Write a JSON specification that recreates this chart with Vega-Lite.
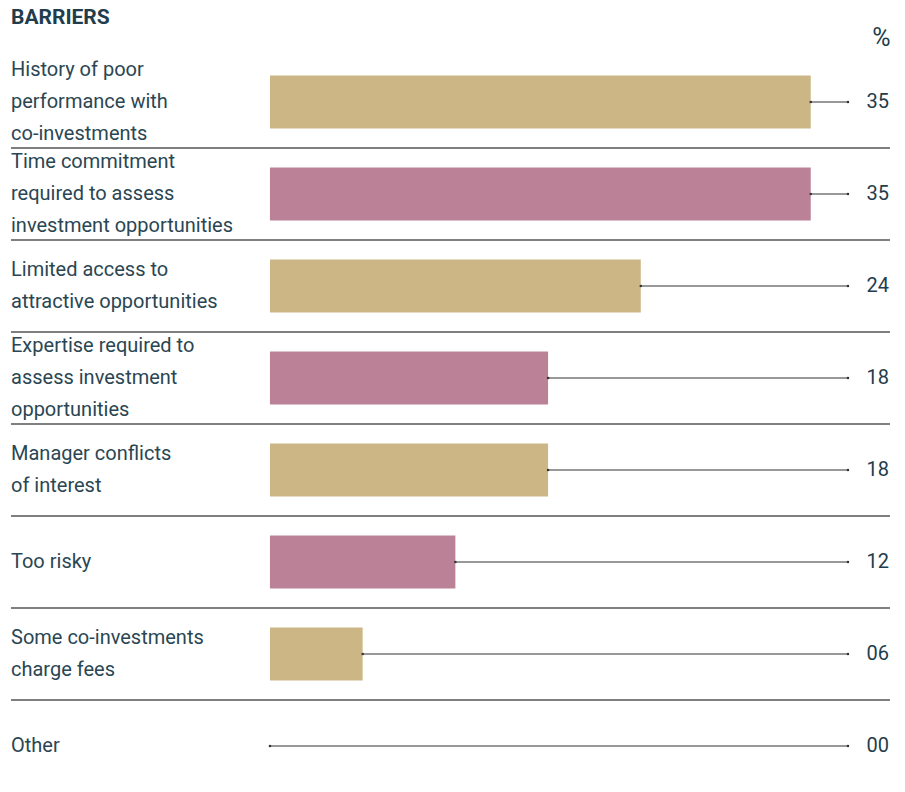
{
  "$schema": "https://vega.github.io/schema/vega-lite/v6.json",
  "autosize": "none",
  "width": 879,
  "height": 736,
  "padding": {"left": 11, "top": 56, "right": 15, "bottom": 0},
  "background": "white",
  "config": {"view": {"stroke": null}, "font": "Roboto"},
  "title": {"text": "BARRIERS", "anchor": "start", "frame": "group", "font": "Roboto", "fontSize": 21, "fontWeight": "bold", "color": "#1f3d4c", "offset": -3},
  "data": {"values": [
    {"label": "History of poor|performance with|co-investments", "value": 35, "shade": "tan"},
    {"label": "Time commitment|required to assess|investment opportunities", "value": 35, "shade": "mauve"},
    {"label": "Limited access to|attractive opportunities", "value": 24, "shade": "tan"},
    {"label": "Expertise required to|assess investment|opportunities", "value": 18, "shade": "mauve"},
    {"label": "Manager conflicts|of interest", "value": 18, "shade": "tan"},
    {"label": "Too risky", "value": 12, "shade": "mauve"},
    {"label": "Some co-investments|charge fees", "value": 6, "shade": "tan"},
    {"label": "Other", "value": 0, "shade": "tan"}
  ]},
  "encoding": {
    "y": {"field": "label", "type": "nominal", "sort": null, "axis": null,
          "scale": {"paddingInner": 0, "paddingOuter": 0}}
  },
  "layer": [
    {
      "transform": [{"filter": "datum.label !== 'Other'"}],
      "mark": {"type": "rule", "color": "#555555", "strokeWidth": 1.5},
      "encoding": {
        "y": {"field": "label", "type": "nominal", "sort": null, "bandPosition": 1},
        "x": {"datum": -16.76},
        "x2": {"datum": 40.13}
      }
    },
    {
      "mark": {"type": "bar", "height": {"band": 0.575}},
      "encoding": {
        "x": {"field": "value", "type": "quantitative",
              "scale": {"domain": [-16.76, 40.13], "zero": false, "nice": false},
              "axis": {"orient": "top", "title": "%", "domain": false, "ticks": false, "labels": false, "grid": false,
                       "titleAlign": "right", "titleAnchor": "end", "titleX": 879, "titleY": -11, "titleBaseline": "alphabetic",
                       "titleFont": "Roboto", "titleFontSize": 25, "titleFontWeight": "normal", "titleColor": "#1f3d4c"}},
        "x2": {"datum": 0},
        "color": {"field": "shade", "type": "nominal", "legend": null,
                  "scale": {"domain": ["tan", "mauve"], "range": ["#cdb685", "#bb8196"]}}
      }
    },
    {
      "mark": {"type": "rule", "color": "#333333", "strokeWidth": 1},
      "encoding": {
        "x": {"field": "value", "type": "quantitative"},
        "x2": {"datum": 37.41}
      }
    },
    {
      "mark": {"type": "point", "shape": "square", "size": 5, "filled": true, "color": "#333333", "opacity": 1},
      "encoding": {
        "x": {"field": "value", "type": "quantitative"}
      }
    },
    {
      "mark": {"type": "point", "shape": "square", "size": 5, "filled": true, "color": "#333333", "opacity": 1},
      "encoding": {
        "x": {"datum": 37.41}
      }
    },
    {
      "mark": {"type": "text", "align": "right", "baseline": "middle", "fontSize": 20, "color": "#1f3d4c", "font": "Roboto"},
      "encoding": {
        "x": {"datum": 40.07},
        "text": {"field": "value", "type": "quantitative", "format": "02d"}
      }
    },
    {
      "transform": [{"filter": "length(split(datum.label, '|')) == 1"}],
      "mark": {"type": "text", "align": "left", "baseline": "middle", "fontSize": 20, "lineHeight": 32, "lineBreak": "|", "color": "#2a4653", "font": "Roboto"},
      "encoding": {
        "x": {"datum": -16.76},
        "text": {"field": "label", "type": "nominal"}
      }
    },
    {
      "transform": [{"filter": "length(split(datum.label, '|')) == 2"}],
      "mark": {"type": "text", "align": "left", "baseline": "middle", "fontSize": 20, "lineHeight": 32, "lineBreak": "|", "dy": -16, "color": "#2a4653", "font": "Roboto"},
      "encoding": {
        "x": {"datum": -16.76},
        "text": {"field": "label", "type": "nominal"}
      }
    },
    {
      "transform": [{"filter": "length(split(datum.label, '|')) == 3"}],
      "mark": {"type": "text", "align": "left", "baseline": "middle", "fontSize": 20, "lineHeight": 32, "lineBreak": "|", "dy": -32, "color": "#2a4653", "font": "Roboto"},
      "encoding": {
        "x": {"datum": -16.76},
        "text": {"field": "label", "type": "nominal"}
      }
    }
  ]
}
